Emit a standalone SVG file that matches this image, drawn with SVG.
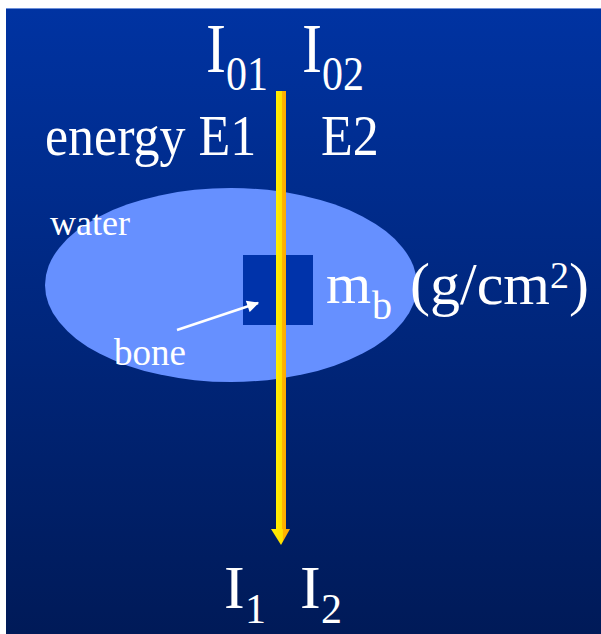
<svg xmlns="http://www.w3.org/2000/svg" width="601" height="634" viewBox="0 0 601 634">
<defs>
<linearGradient id="bg" x1="0" y1="0" x2="0" y2="1">
<stop offset="0" stop-color="#0033a2"/>
<stop offset="1" stop-color="#001a58"/>
</linearGradient>
<linearGradient id="beam" x1="0" y1="0" x2="1" y2="0">
<stop offset="0" stop-color="#fff000"/>
<stop offset="0.6" stop-color="#ffe000"/>
<stop offset="0.65" stop-color="#ffb400"/>
<stop offset="1" stop-color="#ffaa00"/>
</linearGradient>
<marker id="whbig" viewBox="0 0 10 10" refX="9" refY="5" markerWidth="14" markerHeight="12" orient="auto" markerUnits="userSpaceOnUse">
<path d="M0,0 L10,5 L0,10 z" fill="#ffffff"/>
</marker>
</defs>
<style>
text{font-family:"Liberation Serif","Times New Roman",serif;fill:#ffffff}
</style>
<rect x="0" y="0" width="601" height="634" fill="#ffffff"/>
<rect x="6" y="8" width="595" height="626" fill="url(#bg)"/>
<line x1="6" y1="8.5" x2="601" y2="8.5" stroke="#6c8fd8" stroke-width="1"/>

<g id="water">
<ellipse cx="231" cy="285" rx="186" ry="97" fill="#6690ff"/>
<text x="50" y="235" font-size="36">water</text>
</g>
<g id="bone">
<rect x="243" y="255" width="70" height="70" fill="#0033aa"/>
<text x="114" y="365" font-size="37">bone</text>
</g>
<g id="connectors">
<line x1="177" y1="330" x2="258" y2="303" stroke="#ffffff" stroke-width="2.5" marker-end="url(#whbig)"/>
<rect x="276" y="91" width="10" height="440" fill="url(#beam)"/>
<path d="M271,529 L290,529 L281,545 z" fill="url(#beam)"/>
</g>

<g id="labels-top">
<g transform="translate(206,72) scale(1,1.18)">
<text x="0" y="0" font-size="60">I</text>
<text x="20" y="15" font-size="42">01</text>
</g>
<g transform="translate(302,72) scale(1,1.18)">
<text x="0" y="0" font-size="60">I</text>
<text x="20" y="15" font-size="42">02</text>
</g>
<g transform="translate(45,155) scale(1,1.1)">
<text x="0" y="0" font-size="52">energy E1</text>
</g>
<g transform="translate(321,155) scale(1,1.1)">
<text x="0" y="0" font-size="52">E2</text>
</g>
</g>
<g id="mass-label">
<text x="326" y="303" font-size="58">m</text>
<text x="372" y="319" font-size="40">b</text>
<text x="410" y="304" font-size="60">(g/cm<tspan font-size="38" dy="-16">2</tspan><tspan dy="16">)</tspan></text>
</g>
<g id="labels-bottom">
<text x="224" y="608" font-size="62">I</text>
<text x="245" y="623" font-size="42">1</text>
<text x="300" y="608" font-size="62">I</text>
<text x="321" y="623" font-size="42">2</text>
</g>
</svg>
